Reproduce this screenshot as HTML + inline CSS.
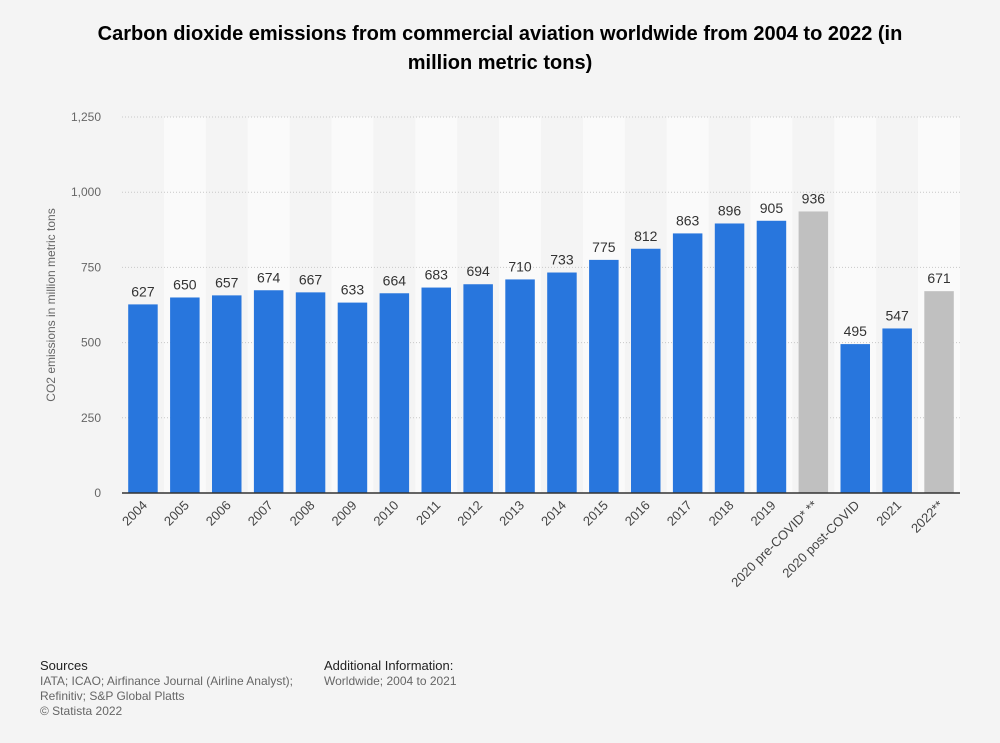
<!DOCTYPE html>
<html><head><meta charset="utf-8"><style>
body{margin:0;background:#f4f4f4;font-family:"Liberation Sans",sans-serif;}
#wrap{position:relative;width:1000px;height:743px;background:#f4f4f4;}
h1{position:absolute;left:70px;top:20px;width:860px;margin:0;text-align:center;font-size:20px;line-height:29px;font-weight:bold;color:#000;}
.foot{position:absolute;font-size:12px;color:#666;line-height:15px;}
.foot b{display:block;font-weight:normal;color:#222;font-size:13px;margin-bottom:1px;}
</style></head><body>
<div id="wrap">
<h1>Carbon dioxide emissions from commercial aviation worldwide from 2004 to 2022 (in million metric tons)</h1>
<svg id="chart" width="1000" height="743" style="position:absolute;left:0;top:0"></svg>
<div class="foot" style="left:40px;top:658px"><b>Sources</b>IATA; ICAO; Airfinance Journal (Airline Analyst);<br>Refinitiv; S&amp;P Global Platts<br>© Statista 2022</div>
<div class="foot" style="left:324px;top:658px"><b>Additional Information:</b>Worldwide; 2004 to 2021</div>
</div>
<script>
const categories=["2004","2005","2006","2007","2008","2009","2010","2011","2012","2013","2014","2015","2016","2017","2018","2019","2020 pre-COVID* **","2020 post-COVID","2021","2022**"];
const values=[627,650,657,674,667,633,664,683,694,710,733,775,812,863,896,905,936,495,547,671];
const greyBars=[16,19];
const yTicks=[0,250,500,750,1000,1250];
const yTickLabels=["0","250","500","750","1,000","1,250"];
const NS="http://www.w3.org/2000/svg";
const svg=document.getElementById('chart');
const X0=122,X1=960,Y0=493,Y1=117,YMAX=1250;
const step=(X1-X0)/categories.length;
const y=v=>Y0-(v/YMAX)*(Y0-Y1);
const xc=i=>X0+step*(i+0.5);
function mk(t,a){const e=document.createElementNS(NS,t);for(const k in a)e.setAttribute(k,a[k]);svg.appendChild(e);return e;}
categories.forEach((c,i)=>{if(i%2===1){const r=mk('rect',{x:xc(i)-step/2,y:Y1,width:step,height:Y0-Y1,fill:'#fafafa'});

}});
yTicks.forEach((t,i)=>{
 if(t>0){const l=mk('line',{x1:X0,x2:X1,y1:y(t),y2:y(t),stroke:'#c8c8c8','stroke-dasharray':'1,2'});
 
 }
 const tx=mk('text',{x:101,y:y(t)+4,'text-anchor':'end','font-size':12,fill:'#666','font-family':'Liberation Sans, sans-serif'});
 tx.textContent=yTickLabels[i];
 
 
});
const yt=mk('text',{x:0,y:0,transform:'translate(55,305) rotate(-90)','text-anchor':'middle','font-size':12,fill:'#666','font-family':'Liberation Sans, sans-serif'});
yt.textContent='CO2 emissions in million metric tons';


const bw=29.5;
categories.forEach((c,i)=>{
 const grey=greyBars.includes(i);
 const b=mk('rect',{x:xc(i)-bw/2,y:y(values[i]),width:bw,height:Y0-y(values[i]),fill:grey?'#c0c0c0':'#2876dd'});
 
 
 const v=mk('text',{x:xc(i),y:y(values[i])-8,'text-anchor':'middle','font-size':14,fill:'#333','font-family':'Liberation Sans, sans-serif'});
 v.textContent=values[i];
 
 
 const t=mk('text',{x:0,y:0,transform:`translate(${xc(i)+5},${Y0+13}) rotate(-45)`,'text-anchor':'end','font-size':13,fill:'#444','font-family':'Liberation Sans, sans-serif'});
 t.textContent=c;
 
 
});
const ax=mk('line',{x1:X0,x2:X1,y1:Y0,y2:Y0,stroke:'#333','stroke-width':1.5});


</script>
</body></html>
